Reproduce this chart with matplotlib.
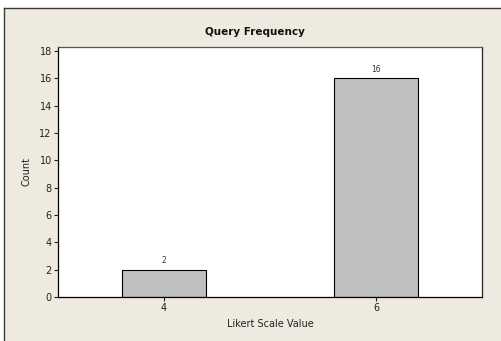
import matplotlib
matplotlib.use("Agg")
import matplotlib.pyplot as plt
from matplotlib.patches import Rectangle
from matplotlib.lines import Line2D

# Data
categories = ['4', '6']
counts = [2, 16]
y_ticks = [0, 2, 4, 6, 8, 10, 12, 14, 16, 18]

bg = '#EEEAE0'
fig = plt.figure(figsize=(5.01, 3.41), dpi=100)
fig.patch.set_facecolor('white')

# beige panel with dark border on top/left
fig.patches.append(Rectangle((4 / 501, 0), 1, 1 - 8 / 341, transform=fig.transFigure,
                             facecolor=bg, edgecolor='none', zorder=-2))
fig.lines.append(Line2D([4 / 501, 4 / 501], [0, 1 - 8 / 341], transform=fig.transFigure,
                        color='#3a3a3a', linewidth=1.0))
fig.lines.append(Line2D([4 / 501, 1], [1 - 8 / 341, 1 - 8 / 341], transform=fig.transFigure,
                        color='#3a3a3a', linewidth=1.0))

ax = fig.add_axes([58 / 501, 1 - 297 / 341, (482 - 58) / 501, (297 - 47) / 341])
ax.set_facecolor('white')

x = list(range(len(categories)))
bars = ax.bar(x, counts, width=0.4, color='#C0C0C0', edgecolor='black', linewidth=0.8)
for xi, c in zip(x, counts):
    ax.text(xi, c + 0.35, str(c), ha='center', va='bottom', fontsize=5.5, color='#333333')

ax.set_xlim(-0.5, 1.5)
ax.set_ylim(0, 18.3)
ax.set_xticks(x)
ax.set_xticklabels(categories)
ax.set_yticks(y_ticks)
ax.tick_params(axis='both', labelsize=7, length=3, width=0.8, pad=1.5, colors='#222222')

ax.spines['left'].set_color('black')
ax.spines['bottom'].set_color('black')
ax.spines['top'].set_color('#555555')
ax.spines['right'].set_color('#222222')
for s in ax.spines.values():
    s.set_linewidth(0.9)

ax.set_xlabel('Likert Scale Value', fontsize=7, labelpad=4, color='#222222')
ax.set_ylabel('Count', fontsize=7, labelpad=6, color='#222222')
fig.text(255 / 501, 1 - 32 / 341, 'Query Frequency', ha='center', va='center',
         fontsize=7.5, fontweight='bold', color='#111111')

fig.savefig('out.png', dpi=100, facecolor=fig.get_facecolor())
